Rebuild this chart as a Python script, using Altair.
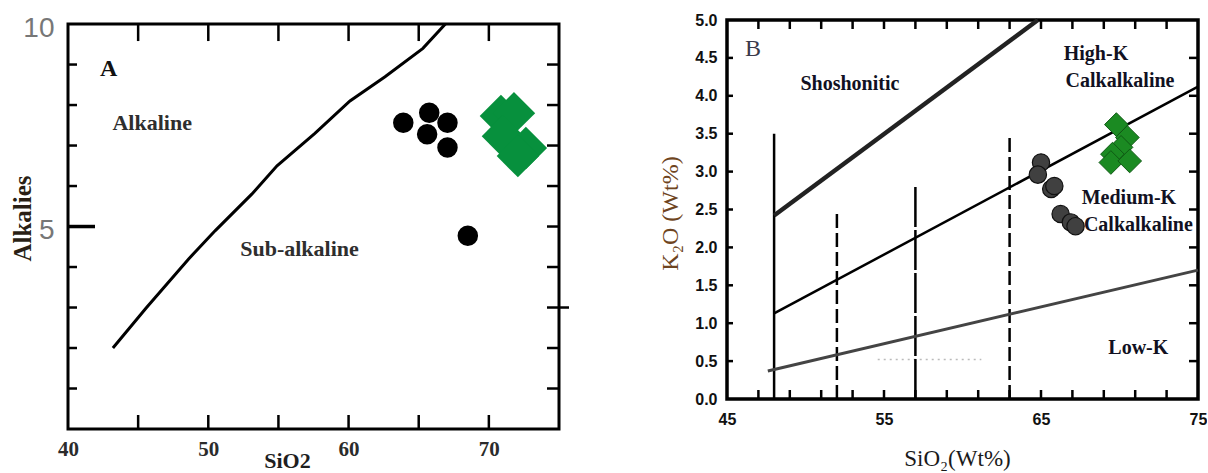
import altair as alt
import pandas as pd

# ---------------- Panel A : Alkalies vs SiO2 ----------------
a_line_sio2 = [43.2, 45.6, 48.6, 50.5, 53.1, 54.9, 57.6, 60.1, 62.6, 65.3, 66.9]
a_line_alk = [2.0, 3.0, 4.2, 4.9, 5.8, 6.5, 7.3, 8.1, 8.7, 9.4, 10.0]
a_circle_sio2 = [63.9, 65.75, 65.6, 67.05, 67.05, 68.5]
a_circle_alk = [7.56, 7.81, 7.28, 7.56, 6.95, 4.77]
a_diamond_sio2 = [70.86, 71.79, 71.0, 72.64, 72.07]
a_diamond_alk = [7.73, 7.80, 7.23, 6.94, 6.74]
a_xlabels = [40, 50, 60, 70]
a_ylabels = [5, 10]
a_xticks = [45, 50, 55, 60, 65, 70]
a_yticks = [1, 2, 3, 4, 6, 7, 8, 9]
a_yticks_right = [1, 2, 3, 4, 5, 6, 7, 8, 9]
a_region_text = ["Alkaline", "Sub-alkaline"]
a_region_x = [46.0, 56.5]
a_region_y = [7.56, 4.44]
a_panel_text = ["A"]
a_panel_x = [42.9]
a_panel_y = [8.9]

# ---------------- Panel B : K2O vs SiO2 ----------------
b_sho_sio2 = [48.0, 64.8]
b_sho_k2o = [2.42, 5.0]
b_hk_sio2 = [48.0, 75.0]
b_hk_k2o = [1.13, 4.12]
b_lk_sio2 = [47.6, 75.0]
b_lk_k2o = [0.37, 1.70]
b_vsolid_sio2 = [48.0]
b_vsolid_top = [3.5]
b_vdash_sio2 = [52.0, 63.0]
b_vdash_top = [2.45, 3.48]
b_vlong_sio2 = [57.0]
b_vlong_top = [2.82]
b_faint_sio2 = [54.6, 61.2]
b_faint_k2o = [0.52, 0.52]
b_circle_sio2 = [65.0, 64.8, 65.65, 65.85, 66.25, 66.9, 67.2]
b_circle_k2o = [3.12, 2.96, 2.77, 2.81, 2.44, 2.33, 2.28]
b_diamond_sio2 = [69.8, 70.5, 70.1, 69.55, 69.45, 70.65]
b_diamond_k2o = [3.62, 3.45, 3.32, 3.23, 3.12, 3.14]
b_xlabels = [45, 55, 65, 75]
b_ylabels = [0.0, 0.5, 1.0, 1.5, 2.0, 2.5, 3.0, 3.5, 4.0, 4.5, 5.0]
b_xticks = [47, 49, 51, 53, 55, 57, 59, 61, 63, 65, 67, 69, 71, 73]
b_yticks = [0.5, 1.0, 1.5, 2.0, 2.5, 3.0, 3.5, 4.0, 4.5]
b_region_text = ["Shoshonitic", "High-K", "Calkalkaline", "Medium-K", "Calkalkaline", "Low-K"]
b_region_x = [52.83, 68.5, 70.03, 70.6, 71.2, 71.2]
b_region_y = [4.16, 4.55, 4.2, 2.65, 2.30, 0.67]
b_panel_text = ["B"]
b_panel_x = [46.66]
b_panel_y = [4.62]

SERIF = "Liberation Serif"
SANS = "Liberation Sans"


class Panel:
    def __init__(self, xs, ys, xaxis, yaxis):
        self.xs, self.ys, self.xaxis, self.yaxis = xs, ys, xaxis, yaxis

    def X(self, f):
        return alt.X(f, scale=self.xs, axis=self.xaxis)

    def Y(self, f):
        return alt.Y(f, scale=self.ys, axis=self.yaxis)

    def ticks(self, vals, edge, side, length, width=2.5):
        df = pd.DataFrame({"v": vals, "e": [edge] * len(vals)})
        if side in ("top", "bottom"):
            off = length if side == "top" else -length
            return alt.Chart(df).mark_rule(color="black", strokeWidth=width, y2Offset=off).encode(
                x=self.X("v:Q"), y=self.Y("e:Q"), y2="e:Q")
        off = length if side == "left" else -length
        return alt.Chart(df).mark_rule(color="black", strokeWidth=width, x2Offset=off).encode(
            x=self.X("e:Q"), x2="e:Q", y=self.Y("v:Q"))

    def frame(self, x0, x1, y0, y1, width=3):
        df = pd.DataFrame({"x1": [x0], "x2": [x1], "y1": [y0], "y2": [y1]})
        return alt.Chart(df).mark_rect(fill="white", fillOpacity=0, stroke="black",
                                       strokeWidth=width).encode(
            x=self.X("x1:Q"), x2="x2:Q", y=self.Y("y1:Q"), y2="y2:Q")

    def texts(self, labels, xv, yv, **style):
        df = pd.DataFrame({"t": labels, "x": xv, "y": yv})
        return alt.Chart(df).mark_text(**style).encode(
            x=self.X("x:Q"), y=self.Y("y:Q"), text="t:N")

    def points(self, xv, yv, **style):
        df = pd.DataFrame({"x": xv, "y": yv})
        return alt.Chart(df).mark_point(filled=True, opacity=1, **style).encode(
            x=self.X("x:Q"), y=self.Y("y:Q"))

    def polyline(self, xv, yv, **style):
        df = pd.DataFrame({"x": xv, "y": yv, "o": list(range(len(xv)))})
        return alt.Chart(df).mark_line(**style).encode(
            x=self.X("x:Q"), y=self.Y("y:Q"), order="o:Q")

    def vrules(self, xv, top, **style):
        df = pd.DataFrame({"x": xv, "y0": [0.0] * len(xv), "y1": top})
        return alt.Chart(df).mark_rule(**style).encode(
            x=self.X("x:Q"), y=self.Y("y0:Q"), y2="y1:Q")


# ---------- Panel A ----------
xa = alt.Scale(domain=[40, 75], nice=False, zero=False)
ya = alt.Scale(domain=[0, 10.1], nice=False, zero=False)

a_xaxis = alt.Axis(
    values=a_xlabels, format="d", domain=False, ticks=False, tickSize=0, grid=False,
    labelFont=SERIF, labelFontWeight="bold", labelFontSize=21, labelColor="#2b2b2b",
    labelPadding=9, labelFlush=False, labelOverlap=False,
    title="SiO2", titleFont=SERIF, titleFontWeight="bold", titleFontSize=22,
    titleColor="#1e1e1e", titleX=219, titleY=31, titleAlign="center", titleBaseline="middle",
)
a_yaxis = alt.Axis(
    values=a_ylabels, format="d", domain=False, ticks=False, tickSize=0, grid=False,
    labelFont=SANS, labelFontSize=28, labelColor="#777777", labelPadding=14,
    labelOffset=4, labelFlush=False, labelOverlap=False,
    title="Alkalies", titleFont=SERIF, titleFontWeight="bold", titleFontSize=25,
    titleColor="#2a1f14", titleX=-46, titleY=198, titleAngle=-90,
    titleAlign="center", titleBaseline="middle",
)
pa = Panel(xa, ya, a_xaxis, a_yaxis)

panel_a = alt.layer(
    pa.frame(40, 75, 0, 10),
    pa.ticks(a_xticks, 10, "top", 17),
    pa.ticks(a_xticks, 0, "bottom", 14),
    pa.ticks(a_yticks, 40, "left", 9),
    pa.ticks([5], 40, "left", 27, width=3.5),
    pa.ticks(a_yticks_right, 75, "right", 12),
    pa.ticks([3], 75, "right", -10),
    pa.polyline(a_line_sio2, a_line_alk, color="black", strokeWidth=3),
    pa.points(a_circle_sio2, a_circle_alk, shape="circle", size=420, color="black"),
    pa.points(a_diamond_sio2, a_diamond_alk, shape="diamond", size=1800, color="#07903d"),
    pa.texts(a_region_text, a_region_x, a_region_y, font=SERIF, fontWeight="bold",
             fontSize=22, color="#2e2e2e", align="center", baseline="middle"),
    pa.texts(a_panel_text, a_panel_x, a_panel_y, font=SERIF, fontWeight="bold",
             fontSize=24, color="#111111", align="center", baseline="middle"),
).properties(width=491, height=409)

# ---------- Panel B ----------
xb = alt.Scale(domain=[45, 75], nice=False, zero=False)
yb = alt.Scale(domain=[0, 5], nice=False, zero=False)

b_xaxis = alt.Axis(
    values=b_xlabels, format="d", domain=False, ticks=False, tickSize=0, grid=False,
    labelFont=SANS, labelFontWeight="bold", labelFontSize=16, labelColor="#111111",
    labelPadding=12, labelFlush=False, labelOverlap=False,
    title="SiO₂(Wt%)", titleFont=SERIF, titleFontWeight="normal", titleFontSize=23,
    titleColor="#1a1a1a", titleX=230, titleY=59, titleAlign="center", titleBaseline="middle",
)
b_yaxis = alt.Axis(
    values=b_ylabels, format=".1f", domain=False, ticks=False, tickSize=0, grid=False,
    labelFont=SANS, labelFontWeight="bold", labelFontSize=16, labelColor="#111111",
    labelPadding=10, labelFlush=False, labelOverlap=False,
    title="K₂O (Wt%)", titleFont=SERIF, titleFontWeight="normal", titleFontSize=24,
    titleColor="#6e4420", titleX=-57, titleY=193, titleAngle=-90,
    titleAlign="center", titleBaseline="middle",
)
pb = Panel(xb, yb, b_xaxis, b_yaxis)

panel_b = alt.layer(
    pb.frame(45, 75, 0, 5, width=3.5),
    pb.ticks(b_xticks, 5, "top", 9),
    pb.ticks(b_xticks, 0, "bottom", 9),
    pb.ticks(b_yticks, 45, "left", 6),
    pb.ticks(b_yticks, 75, "right", 9),
    pb.polyline(b_faint_sio2, b_faint_k2o, color="#bbbbbb", strokeWidth=1.5, strokeDash=[2, 4]),
    pb.vrules(b_vsolid_sio2, b_vsolid_top, color="black", strokeWidth=2.5),
    pb.vrules(b_vdash_sio2, b_vdash_top, color="black", strokeWidth=2.5, strokeDash=[14, 5]),
    pb.vrules(b_vlong_sio2, b_vlong_top, color="black", strokeWidth=2.5, strokeDash=[40, 3]),
    pb.polyline(b_sho_sio2, b_sho_k2o, color="#222222", strokeWidth=4.5),
    pb.polyline(b_hk_sio2, b_hk_k2o, color="black", strokeWidth=2.5),
    pb.polyline(b_lk_sio2, b_lk_k2o, color="#444444", strokeWidth=3),
    pb.points(b_circle_sio2, b_circle_k2o, shape="circle", size=300,
              fill="#404040", stroke="#111111", strokeWidth=1.2),
    pb.points(b_diamond_sio2, b_diamond_k2o, shape="diamond", size=560,
              fill="#1b8a22", stroke="#0f5a14", strokeWidth=1),
    pb.texts(b_region_text, b_region_x, b_region_y, font=SERIF, fontWeight="bold",
             fontSize=20, color="#111122", align="center", baseline="middle"),
    pb.texts(b_panel_text, b_panel_x, b_panel_y, font=SERIF, fontWeight="normal",
             fontSize=24, color="#3a3a4a", align="center", baseline="middle"),
).properties(width=471, height=379)

chart = alt.hconcat(panel_a, panel_b, spacing=168, bounds="flush").properties(
    padding={"left": 10, "top": 11, "right": 0, "bottom": 0},
    background="white",
).configure_view(stroke=None)

chart.save("out.html", embed_options={"renderer": "svg", "actions": False})
